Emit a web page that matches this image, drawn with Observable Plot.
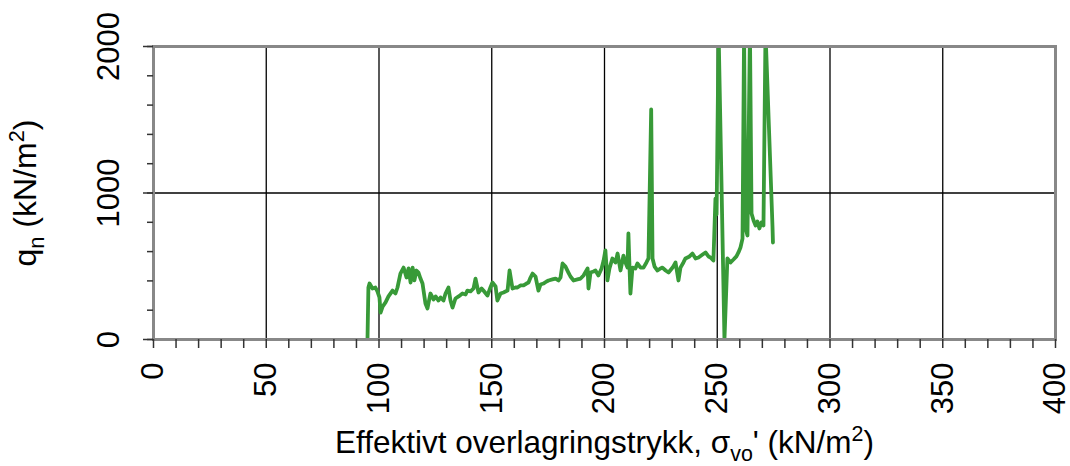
<!DOCTYPE html>
<html><head><meta charset="utf-8">
<script src="https://cdn.jsdelivr.net/npm/d3@7"></script>
<script src="https://cdn.jsdelivr.net/npm/@observablehq/plot@0.6"></script>
<style>body{margin:0;background:#fff;}</style>
</head><body><div id="chart"></div>
<script>
// Effective overburden stress (kN/m2)
const sigma = [
  94.9, 95.3, 95.8, 97.1, 98.4, 99.3, 100.2, 100.7, 101.6, 102.9,
  104.2, 106.0, 107.3, 108.2, 109.5, 110.9, 112.2, 113.1, 114.0, 114.9,
  115.7, 116.6, 117.5, 118.4, 119.3, 120.6, 121.5, 122.8, 124.2, 125.1,
  126.4, 127.3, 128.6, 129.5, 130.8, 131.7, 132.6, 133.9, 135.3, 137.0,
  138.4, 139.2, 140.6, 141.9, 142.8, 144.1, 145.5, 146.3, 148.1, 149.4,
  150.3, 151.7, 152.5, 153.9, 155.2, 157.0, 157.9, 159.2, 160.5, 161.4,
  162.7, 164.1, 165.4, 166.3, 167.2, 168.1, 169.4, 170.7, 171.6, 172.9,
  174.3, 175.2, 176.9, 178.3, 179.6, 180.5, 181.4, 182.7, 184.0, 184.9,
  186.3, 188.0, 189.4, 190.7, 192.5, 192.9, 193.8, 195.1, 196.0, 197.3,
  198.7, 199.6, 200.4, 201.3, 202.2, 203.5, 204.9, 205.8, 207.1, 208.4,
  209.3, 210.2, 210.6, 211.1, 211.5, 212.4, 213.7, 214.6, 216.0, 217.3,
  218.6, 219.5, 220.7, 221.3, 222.2, 223.5, 224.8, 225.7, 227.1, 228.4,
  230.2, 231.5, 232.8, 233.7, 235.0, 235.9, 237.7, 239.0, 240.4, 241.7,
  243.5, 244.8, 246.1, 247.0, 248.3, 249.2, 249.7, 250.6, 253.2, 254.5,
  255.9, 257.2, 258.5, 259.4, 260.3, 261.2, 261.9, 262.5, 263.4, 264.5,
  265.2, 266.1, 267.0, 267.8, 268.7, 269.6, 270.5, 271.4, 274.5, 274.7
];
// Net cone resistance q_n (kN/m2)
const qn = [
  0, 355, 382, 348, 355, 328, 287, 184, 225, 253,
  294, 334, 314, 355, 450, 491, 423, 485, 389, 491,
  403, 471, 457, 416, 382, 246, 212, 314, 273, 294,
  266, 287, 266, 314, 355, 266, 218, 280, 294, 314,
  307, 334, 328, 348, 416, 321, 348, 334, 300, 355,
  389, 362, 266, 314, 321, 334, 471, 348, 355, 355,
  369, 369, 382, 389, 423, 450, 430, 334, 375, 382,
  396, 403, 410, 416, 403, 423, 519, 498, 457, 430,
  403, 410, 416, 437, 485, 348, 457, 464, 471, 437,
  485, 539, 608, 403, 485, 553, 526, 587, 471, 573,
  526, 491, 724, 491, 314, 491, 485, 519, 491, 491,
  526, 553, 1570, 553, 498, 471, 485, 491, 471, 457,
  491, 526, 403, 491, 526, 553, 567, 587, 553, 560,
  580, 594, 567, 560, 539, 962, 853, 2100, 0, 553,
  526, 546, 567, 594, 628, 689, 2100, 765, 710, 2100,
  860, 812, 778, 805, 758, 799, 778, 2100, 771, 662
];
const xTicks = [0, 50, 100, 150, 200, 250, 300, 350, 400];
const xMinorTicks = d3.range(0, 401, 10);
const yTicks = [0, 1000, 2000];
const yMinorTicks = d3.range(0, 2001, 200);
const xGrid = [50, 100, 150, 200, 250, 300, 350];
const yGrid = [1000];
const xTitle = "Effektivt overlagringstrykk, σ_{vo}' (kN/m^{2})";
const yTitle = "q_{n} (kN/m^{2})";

const data = sigma.map((s, i) => ({s, q: qn[i]}));
const font = "'Liberation Sans', Arial, sans-serif";

const chart = Plot.plot({
  width: 1070, height: 466,
  marginLeft: 153, marginRight: 15, marginTop: 46, marginBottom: 127,
  style: {fontFamily: font, background: "#fff", overflow: "visible", color: "#000"},
  x: {domain: [0, 400]},
  y: {domain: [0, 2000]},
  marks: [
    Plot.ruleX(xGrid, {stroke: "#000", strokeWidth: 1.3}),
    Plot.ruleY(yGrid, {stroke: "#000", strokeWidth: 1.3}),
    Plot.line(data, {x: "s", y: "q", stroke: "#389a38", strokeWidth: 3.8, clip: true}),
    Plot.frame({stroke: "#888", strokeWidth: 3}),
    Plot.axisX(xMinorTicks, {tickSize: 9, tickFormat: () => "", stroke: "#333", strokeWidth: 1.5, label: null}),
    Plot.axisY(yMinorTicks, {tickSize: 6, tickFormat: () => "", stroke: "#333", strokeWidth: 1.5, label: null}),
    Plot.axisY(yTicks, {tickSize: 10, tickFormat: () => "", stroke: "#333", strokeWidth: 1.5, label: null}),
    Plot.text(xTicks, {x: d => d, text: d => String(d), frameAnchor: "bottom", dy: 23, rotate: -90,
      textAnchor: "end", lineAnchor: "middle", fontSize: 31}),
    Plot.text(yTicks, {y: d => d, text: d => String(d), frameAnchor: "left", dx: -35, rotate: -90,
      textAnchor: "middle", lineAnchor: "bottom", fontSize: 31}),
    Plot.text([xTitle], {text: d => d, frameAnchor: "bottom", dy: 113, textAnchor: "middle",
      lineAnchor: "bottom", fontSize: 31.5}),
    Plot.text([yTitle], {text: d => d, frameAnchor: "left", dx: -118, rotate: -90, textAnchor: "middle",
      lineAnchor: "bottom", fontSize: 32})
  ]
});

// Turn _{..} and ^{..} markup into subscript / superscript tspans
d3.select(chart).selectAll("text").each(function () {
  const t = this.textContent;
  if (!/[_^]\{/.test(t)) return;
  const el = d3.select(this);
  el.text(null);
  const re = /([_^])\{([^}]*)\}/g;
  let last = 0, m, shift = 0;
  while ((m = re.exec(t))) {
    if (m.index > last) el.append("tspan").attr("dy", -shift).text(t.slice(last, m.index)), shift = 0;
    const d = m[1] === "_" ? 8 : -12;
    el.append("tspan").attr("dy", d - shift).attr("font-size", "0.68em").text(m[2]);
    shift = d;
    last = re.lastIndex;
  }
  if (last < t.length) el.append("tspan").attr("dy", -shift).text(t.slice(last));
});

document.getElementById("chart").appendChild(chart);
</script>
</body></html>
